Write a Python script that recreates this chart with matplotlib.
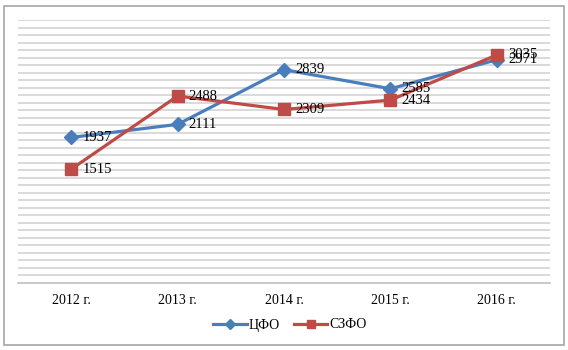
import matplotlib
matplotlib.use("Agg")
import matplotlib.pyplot as plt
from matplotlib.patches import Rectangle

years = ["2012 г.", "2013 г.", "2014 г.", "2015 г.", "2016 г."]
cfo = [1937, 2111, 2839, 2585, 2971]
szfo = [1515, 2488, 2309, 2434, 3035]

plt.rcParams["font.family"] = ["Liberation Serif", "DejaVu Serif"]

W, H = 568, 350
fig = plt.figure(figsize=(W / 100, H / 100), dpi=100)
ax = fig.add_axes([18 / W, 1 - 283 / H, (550 - 18) / W, (283 - 20) / H])

blue = "#4a7ebb"
red = "#be4b48"
x = list(range(len(years)))

ax.plot(x, cfo, color=blue, lw=2.3, marker="D", ms=7, mfc=blue, mec=blue, label="ЦФО", zorder=3)
ax.plot(x, szfo, color=red, lw=2.3, marker="s", ms=9, mfc=red, mec=red, label="СЗФО", zorder=3)

for xi, v in zip(x, cfo):
    ax.annotate(str(v), (xi, v), xytext=(8, 0), textcoords="offset points",
                va="center", ha="left", fontsize=10.5, zorder=4)
for xi, v in zip(x, szfo):
    ax.annotate(str(v), (xi, v), xytext=(8, 0), textcoords="offset points",
                va="center", ha="left", fontsize=10.5, zorder=4)

ax.set_xlim(-0.5, 4.5)
ax.set_ylim(0, 3500)
ax.set_yticks(range(100, 3600, 100))
ax.yaxis.grid(True, color="#d9d9d9", lw=1.4)
ax.set_axisbelow(True)
ax.tick_params(axis="y", left=False, labelleft=False)
ax.set_xticks(x)
ax.set_xticklabels(years, fontsize=10)
ax.tick_params(axis="x", length=0, pad=8)
for s in ["left", "right", "top"]:
    ax.spines[s].set_visible(False)
ax.spines["bottom"].set_color("#bfbfbf")
ax.spines["bottom"].set_linewidth(1.2)

fig.legend(loc="center", bbox_to_anchor=(290 / W, 1 - 325 / H), ncol=2, frameon=False,
           fontsize=10, handlelength=2.4, columnspacing=1.0, handletextpad=0.15,
           markerscale=0.7)

fig.patches.append(Rectangle((4 / W, 1 - 345 / H), (564 - 4) / W, (345 - 6) / H,
                             transform=fig.transFigure, fill=False, ec="#a6a6a6", lw=1.2))

fig.savefig("out.png", dpi=100)
